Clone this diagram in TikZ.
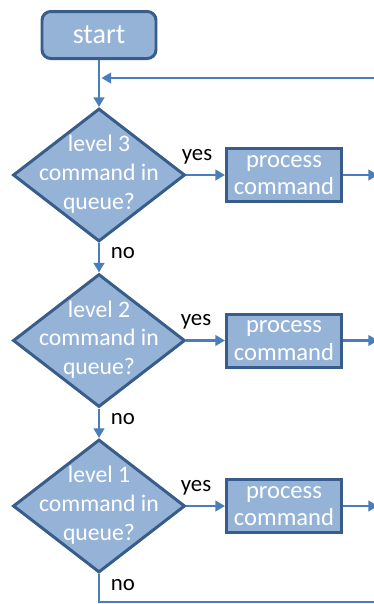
\documentclass[tikz,border=0pt]{standalone}
\usepackage{fontspec}
\setmainfont{Carlito}
\usepackage{xcolor}
\usepackage{tikz}
\usetikzlibrary{shapes.geometric,positioning,arrows.meta}
\definecolor{boxfill}{HTML}{95B3D7}
\definecolor{boxline}{HTML}{385D8A}
\definecolor{flowline}{HTML}{4A7EBB}

\begin{document}
\begin{tikzpicture}[
            startbox/.style = {draw=boxline, fill=boxfill, line width=1.7pt, rounded corners=5pt,
                minimum width=2.28cm, minimum height=0.94cm, text=white, font=\fontsize{16}{19}\selectfont},
            decision/.style = {diamond, draw=boxline, fill=boxfill, line width=1.7pt,
                minimum width=3.44cm, minimum height=2.66cm, inner sep=0pt},
            qtext/.style = {align=center, text=white, font=\fontsize{13.5}{16.4}\selectfont},
            procbox/.style = {draw=boxline, fill=boxfill, line width=1.7pt, minimum width=2.3cm,
                minimum height=1.06cm, align=center, text=white, font=\fontsize{14}{15.6}\selectfont},
            lbl/.style = {font=\fontsize{13}{15}\selectfont, inner sep=0pt},
            flow/.style = {draw=flowline, line width=1.5pt, -{Triangle[length=5.5pt,width=6pt]}},
            wire/.style = {draw=flowline, line width=1.5pt}]
        \useasboundingbox (0,0) rectangle (7.48,-12.08);
        \clip (0,0) rectangle (7.48,-12.08);
        % start and the way back in
        \node[startbox] (nstart) at (1.98,-0.70) {start};
        \coordinate (njoin) at (2.03,-1.56);
        \coordinate (nback) at (7.6,-1.56);
        % level 3
        \node[decision] (nq3) at (1.98,-3.50) {};
        \node[qtext] (nq3t) at (1.98,-3.48) {level 3\\command in\\queue?};
        \node[procbox] (np3) at (5.68,-3.50) {process\\command};
        \coordinate (nout3) at (7.56,-3.50);
        \node[lbl] (ny3) at (3.94,-3.14) {yes};
        \node[lbl] (nn3) at (2.46,-5.06) {no};
        % level 2
        \node[decision] (nq2) at (1.98,-6.81) {};
        \node[qtext] (nq2t) at (1.98,-6.79) {level 2\\command in\\queue?};
        \node[procbox] (np2) at (5.68,-6.81) {process\\command};
        \coordinate (nout2) at (7.56,-6.81);
        \node[lbl] (ny2) at (3.92,-6.44) {yes};
        \node[lbl] (nn2) at (2.46,-8.38) {no};
        % level 1
        \node[decision] (nq1) at (1.98,-10.12) {};
        \node[qtext] (nq1t) at (1.98,-10.10) {level 1\\command in\\queue?};
        \node[procbox] (np1) at (5.68,-10.12) {process\\command};
        \coordinate (nout1) at (7.56,-10.12);
        \node[lbl] (ny1) at (3.92,-9.76) {yes};
        \node[lbl] (nn1) at (2.46,-11.70) {no};
        \coordinate (nend) at (1.98,-12.04);
        \coordinate (nexit) at (7.6,-12.04);

        \draw[flow] (nstart) -- (nq3);
        \draw[flow] (nback) -- (njoin);
        \draw[flow] (nq3) -- (np3);
        \draw[flow] (np3) -- (nout3);
        \draw[flow] (nq3) -- (nq2);
        \draw[flow] (nq2) -- (np2);
        \draw[flow] (np2) -- (nout2);
        \draw[flow] (nq2) -- (nq1);
        \draw[flow] (nq1) -- (np1);
        \draw[flow] (np1) -- (nout1);
        \draw[wire] (nq1) -- (nend) -- (nexit);
        \end{tikzpicture}
\end{document}
